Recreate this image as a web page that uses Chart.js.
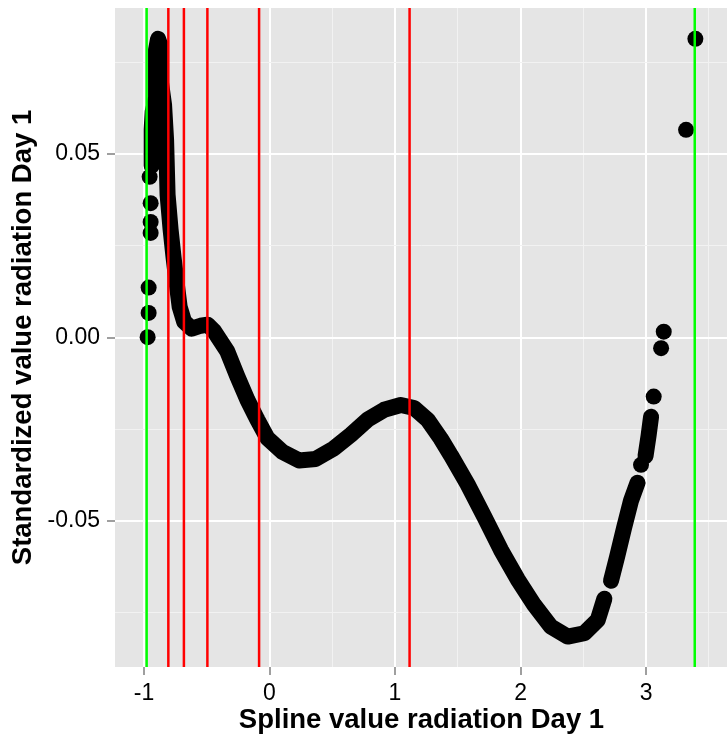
<!DOCTYPE html>
<html>
<head>
<meta charset="utf-8">
<script src="https://cdn.jsdelivr.net/npm/chart.js@4.4.1/dist/chart.umd.min.js"></script>
<style>
  html, body { margin: 0; padding: 0; background: #fff; overflow: hidden; }
  canvas { display: block; }
</style>
</head>
<body>
<!-- 9px wider than the window: Chart.js keeps a margin for the thick strokes on the right -->
<canvas id="splineChart" width="736" height="738"></canvas>
<script>
// dense part of the spline, read along the centre of the black band
const curveX = [-0.939, -0.939, -0.931, -0.904, -0.904, -0.888, -0.872, -0.868, -0.840, -0.824,
  -0.812, -0.788, -0.764, -0.740, -0.716, -0.680, -0.620, -0.549, -0.493, -0.443,
  -0.336, -0.256, -0.176, -0.097, -0.017, 0.103, 0.235, 0.368, 0.514, 0.648,
  0.781, 0.913, 1.046, 1.152, 1.259, 1.365, 1.445, 1.578, 1.711, 1.844,
  1.977, 2.109, 2.242, 2.376, 2.508, 2.615, 2.668];
const curveY = [0.0468, 0.0566, 0.0615, 0.0654, 0.0784, 0.0814, 0.0798, 0.0703, 0.0634, 0.0539,
  0.0389, 0.0294, 0.0217, 0.0149, 0.0084, 0.0043, 0.0024, 0.0032, 0.0035, 0.0018,
  -0.0038, -0.0106, -0.0170, -0.0224, -0.0274, -0.0312, -0.0335, -0.0331, -0.0302, -0.0265,
  -0.0224, -0.0197, -0.0184, -0.0192, -0.0224, -0.0276, -0.0321, -0.0400, -0.0488, -0.0579,
  -0.0659, -0.0729, -0.0788, -0.0815, -0.0806, -0.0770, -0.0712];

// right arm: short runs of overlapping points
const armX = [2.721, 2.769, 2.825, 2.880, 2.932, 2.996, 3.020, 3.040];
const armY = [-0.0663, -0.0598, -0.0519, -0.0445, -0.0396, -0.0323, -0.0268, -0.0216];
const armPiece = [1, 1, 1, 1, 1, 2, 2, 2];

// single points standing apart from the band
const dotX = [-0.955, -0.947, -0.947, -0.947, -0.963, -0.963, -0.971,
  2.960, 3.061, 3.120, 3.141, 3.319, 3.393];
const dotY = [0.0438, 0.0366, 0.0315, 0.0285, 0.0136, 0.0067, 0.0001,
  -0.0347, -0.0161, -0.0029, 0.0016, 0.0566, 0.0814];

// vertical reference lines
const vLineX = [-0.979, -0.806, -0.682, -0.495, -0.083, 1.116, 3.388];
const vLineColor = ['#00FF00', '#FF0000', '#FF0000', '#FF0000', '#FF0000', '#FF0000', '#00FF00'];

// axes
const xMin = -1.231, xMax = 3.653;
const yMin = -0.0898, yMax = 0.0898;
const xTicks = [-1, 0, 1, 2, 3];
const xTickLabels = ['-1', '0', '1', '2', '3'];
const xMinor = [-0.5, 0.5, 1.5, 2.5, 3.5];
const yTicks = [-0.05, 0, 0.05];
const yTickLabels = ['-0.05', '0.00', '0.05'];
const yMinor = [-0.075, -0.025, 0.025, 0.075];

Chart.defaults.font.family = "'Liberation Sans', Arial, sans-serif";

const panelBg = {
  id: 'panelBg',
  beforeDraw(chart) {
    const { ctx, chartArea: a } = chart;
    ctx.save();
    ctx.fillStyle = '#E5E5E5';
    ctx.fillRect(a.left, a.top, a.right - a.left, a.bottom - a.top);
    ctx.restore();
  }
};

const datasets = [];
vLineX.forEach((v, i) => {
  datasets.push({
    data: [{ x: v, y: yMin }, { x: v, y: yMax }],
    showLine: true,
    borderColor: vLineColor[i],
    borderWidth: 2.5,
    pointRadius: 0,
    order: 0
  });
});
datasets.push({
  data: dotX.map((x, i) => ({ x, y: dotY[i] })),
  pointRadius: 8,
  pointBorderWidth: 0,
  pointBackgroundColor: '#000',
  order: 1
});
datasets.push({
  data: curveX.map((x, i) => ({ x, y: curveY[i] })),
  showLine: true,
  borderColor: '#000',
  borderWidth: 16,
  borderCapStyle: 'round',
  borderJoinStyle: 'round',
  pointRadius: 0,
  order: 2
});
[...new Set(armPiece)].forEach(p => {
  const pts = [];
  armX.forEach((x, i) => { if (armPiece[i] === p) pts.push({ x, y: armY[i] }); });
  datasets.push({
    data: pts,
    showLine: true,
    borderColor: '#000',
    borderWidth: 16,
    borderCapStyle: 'round',
    borderJoinStyle: 'round',
    pointRadius: 0,
    order: 2
  });
});

const isIn = (list, v) => list.some(t => Math.abs(t - v) < 1e-9);
const idxOf = (list, v) => list.findIndex(t => Math.abs(t - v) < 1e-9);
const noPad = s => { s.paddingTop = 0; s.paddingBottom = 0; s.paddingLeft = 0; s.paddingRight = 0; };

new Chart(document.getElementById('splineChart'), {
  type: 'scatter',
  data: { datasets },
  plugins: [panelBg],
  options: {
    responsive: false,
    animation: false,
    devicePixelRatio: 1,
    events: [],
    layout: { padding: { left: 0, right: 0, top: 7, bottom: 0 } },
    plugins: { legend: { display: false }, tooltip: { enabled: false } },
    scales: {
      x: {
        type: 'linear',
        min: xMin,
        max: xMax,
        afterBuildTicks: s => { s.ticks = xTicks.concat(xMinor).sort((a, b) => a - b).map(v => ({ value: v })); },
        afterFit: s => { s.height = 71; noPad(s); },
        border: { display: false },
        grid: {
          color: c => isIn(xTicks, c.tick.value) ? '#FFFFFF' : '#F2F2F2',
          lineWidth: c => isIn(xTicks, c.tick.value) ? 2 : 1,
          tickColor: c => isIn(xTicks, c.tick.value) ? '#7F7F7F' : 'rgba(0,0,0,0)',
          tickLength: 8,
          tickWidth: 1.5
        },
        ticks: {
          autoSkip: false,
          maxRotation: 0,
          padding: 5,
          color: '#000',
          font: { size: 23 },
          callback: v => { const k = idxOf(xTicks, v); return k >= 0 ? xTickLabels[k] : ''; }
        },
        title: {
          display: true,
          text: 'Spline value radiation Day 1',
          color: '#000',
          font: { size: 27.5, weight: 'bold' },
          padding: { top: 0, bottom: 1 }
        }
      },
      y: {
        type: 'linear',
        min: yMin,
        max: yMax,
        afterBuildTicks: s => { s.ticks = yTicks.concat(yMinor).sort((a, b) => a - b).map(v => ({ value: v })); },
        afterFit: s => { s.width = 115; noPad(s); },
        border: { display: false },
        grid: {
          color: c => isIn(yTicks, c.tick.value) ? '#FFFFFF' : '#F2F2F2',
          lineWidth: c => isIn(yTicks, c.tick.value) ? 2 : 1,
          tickColor: c => isIn(yTicks, c.tick.value) ? '#7F7F7F' : 'rgba(0,0,0,0)',
          tickLength: 8,
          tickWidth: 1.5
        },
        ticks: {
          autoSkip: false,
          padding: 7,
          color: '#000',
          font: { size: 23 },
          callback: v => { const k = idxOf(yTicks, v); return k >= 0 ? yTickLabels[k] : ''; }
        },
        title: {
          display: true,
          text: 'Standardized value radiation Day 1',
          color: '#000',
          font: { size: 27.5, weight: 'bold' },
          padding: { top: 7, bottom: 0 }
        }
      }
    }
  }
});
</script>
</body>
</html>
